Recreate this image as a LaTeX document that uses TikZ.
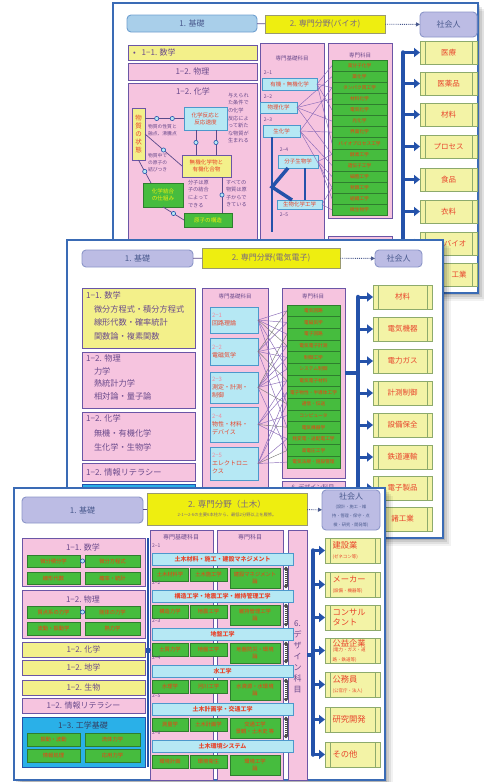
\documentclass[tikz,border=0pt]{standalone}
\usepackage{fontspec}
\setmainfont{Noto Sans CJK JP}
\usetikzlibrary{arrows.meta}
\definecolor{cardb}{HTML}{3A6BB5}
\definecolor{pinkc}{HTML}{F6C4DF}
\definecolor{purpb}{HTML}{6B56A6}
\definecolor{yelt}{HTML}{EEEE10}
\definecolor{ytb}{HTML}{9A9A70}
\definecolor{yell}{HTML}{F3F08A}
\definecolor{lav}{HTML}{BCBCE4}
\definecolor{lavb}{HTML}{8C96C8}
\definecolor{lblue}{HTML}{A9CFEA}
\definecolor{lbb}{HTML}{6FA0D0}
\definecolor{cyanf}{HTML}{B6E8F4}
\definecolor{cyanb}{HTML}{4C98CC}
\definecolor{grn}{HTML}{46BC3E}
\definecolor{grnb}{HTML}{2E7E2E}
\definecolor{grt}{HTML}{F23C10}
\definecolor{outf}{HTML}{F3F3A6}
\definecolor{outb}{HTML}{8DAA6C}
\definecolor{redt}{HTML}{E8452C}
\definecolor{txt}{HTML}{6A4A8C}
\definecolor{basetxt}{HTML}{4A5A8E}
\definecolor{ytxt}{HTML}{7A6A7E}
\definecolor{brk}{HTML}{2452AA}
\definecolor{bright}{HTML}{2AB0E8}
\definecolor{dline}{HTML}{5A4A8A}
\definecolor{xlc}{HTML}{8A6AB8}
\definecolor{labc}{HTML}{F08CA0}
\newcommand\fsz[2]{\fontsize{#1}{#2}\selectfont}
\newcommand\smf{\fontsize{4.5}{5.5}\selectfont}
\newcommand\mybox[7]{%
  \pgfmathsetmacro\mbw{#5-#3}\pgfmathsetmacro\mbh{#6-#4}%
  \pgfmathsetmacro\mbx{(#3+#5)/2}\pgfmathsetmacro\mby{(#4+#6)/2}%
  \node[#1, minimum width=\mbw pt, minimum height=\mbh pt] (#2) at (\mbx,\mby) {#7};}
\newcommand\cardshadow[4]{%
  \foreach \s/\o in {8/0.05,6/0.07,4/0.09,2/0.11}{\fill[black,opacity=\o] (#1+\s,#2+\s) rectangle (#3+\s,#4+\s);}}
\tikzset{
  every node/.style={inner sep=0pt, outer sep=0pt},
  card/.style={fill=white, draw=cardb, line width=1.6pt},
  lavbox/.style={fill=lav, draw=lavb, line width=0.9pt, rounded corners=4pt, text=basetxt, font=\fsz{8}{9}, align=center},
  lbbox/.style={lavbox, fill=lblue, draw=lbb},
  ytitle/.style={fill=yelt, draw=ytb, line width=0.8pt, text=ytxt, font=\fsz{8}{9}, align=center},
  ybox/.style={fill=yell, draw=purpb, line width=0.9pt, text=txt, font=\fsz{8}{9}, align=center},
  pbox/.style={ybox, fill=pinkc},
  brbox/.style={ybox, fill=bright, draw=brk},
  pcol/.style={fill=pinkc, draw=purpb, line width=0.9pt},
  coltitle/.style={text=txt, font=\fsz{5.5}{6}},
  ttxt/.style={text=txt, font=\fsz{8}{9}},
  ltxt/.style={text=txt, font=\fsz{8.2}{13.5}, align=left},
  cybox/.style={fill=cyanf, draw=cyanb, line width=0.7pt, text=redt, font=\fsz{5.5}{6.5}, align=center},
  ecy/.style={fill=cyanf, draw=cyanb, line width=0.7pt, text=redt, font=\fsz{6}{8}, align=left, text width=44pt},
  cbar/.style={fill=cyanf, draw=cyanb, line width=0.7pt, text=redt, font=\bfseries\fsz{6}{7}, align=center},
  gbox/.style={fill=grn, draw=grnb, line width=0.5pt, text=grt, font=\fsz{4.7}{5.5}, align=center},
  gbox2/.style={gbox, font=\fsz{5.3}{6.2}},
  yvbox/.style={fill=yell, draw=purpb, line width=0.8pt, text=redt, font=\fsz{6.5}{8}, align=center},
  ycbox/.style={fill=yell, draw=purpb, line width=0.8pt, text=redt, font=\fsz{5.6}{7}, align=center},
  cchem/.style={fill=cyanf, draw=cyanb, line width=0.8pt, text=redt, font=\fsz{5.6}{7}, align=center},
  gchem/.style={fill=grn, draw=grnb, line width=0.8pt, text=yelt, font=\fsz{5.6}{7}, align=center},
  stxt/.style={text=txt, font=\fsz{5.2}{7.6}, align=left},
  lab/.style={text=labc, font=\fsz{5}{6}},
  dotc/.style={circle, fill=cyanf, draw=brk, line width=0.6pt, minimum size=4.2pt},
  cline/.style={draw=dline, line width=0.7pt},
  thk/.style={draw=brk, line width=3.5pt},
  thn/.style={draw=brk, line width=1.8pt},
  xl/.style={draw=xlc, line width=0.45pt},
  xg/.style={draw=black!55, line width=0.4pt},
  bracket/.style={draw=brk, line width=4.5pt, line cap=round},
  barrow/.style={draw=brk, line width=3pt, -{Triangle[length=6pt,width=9pt]}},
  dotarr/.style={draw=basetxt, densely dotted, line width=0.9pt, -{Triangle[length=4pt,width=4pt]}},
  chainb/.style={draw=black!70, line width=3pt, {Triangle[length=3pt,width=5pt]}-{Triangle[length=3pt,width=5pt]}},
  chainw/.style={draw=white, line width=1.4pt, dash pattern=on 1pt off 1pt, shorten >=4pt, shorten <=4pt},
  outbox/.style={fill=outf, draw=outb, line width=0.8pt, text=redt, font=\fsz{7.5}{8.5}, align=center,
    path picture={\draw[outb, line width=0.7pt]
      ([xshift=5pt]path picture bounding box.north west) -- ([xshift=5pt]path picture bounding box.south west)
      ([xshift=-5pt]path picture bounding box.north east) -- ([xshift=-5pt]path picture bounding box.south east);}},
  outl/.style={outbox, align=left, text width=40pt, font=\fsz{8.3}{9.5}},
}
\begin{document}
\begin{tikzpicture}[x=1pt,y=-1pt]
\useasboundingbox (0,0) rectangle (483,782);
\fill[white] (0,0) rectangle (483,782);

%%%%%%%%%%%%%%%% CARD 1 : bio
\cardshadow{113}{3}{478}{293}
\mybox{card}{c1}{113}{3}{478}{293}{}
\mybox{lbbox}{bbase}{127}{15}{257}{32}{1. 基礎}
\mybox{ytitle}{bspec}{265}{15}{385}{33}{2. 専門分野(バイオ)}
\mybox{lavbox}{bsoc}{420}{12}{477}{37}{社会人}
\draw[cline] (bbase) -- (bspec);
\draw[dotarr] (bspec) -- (bsoc);

\mybox{ybox}{bmath}{128}{45}{257}{60}{}
\node[ttxt, anchor=west] (bmatht) at (133,52.5) {•\hspace{6pt}1−1. 数学};
\mybox{pbox}{bphys}{128}{63}{257}{80}{1−2. 物理}
\mybox{pbox}{bchem}{128}{83}{257}{300}{}
\node[ttxt] (bchemt) at (193,91) {1−2. 化学};

\mybox{yvbox}{bst}{132}{108}{145}{160}{物\\質\\の\\状\\態}
\mybox{cchem}{brx}{184}{107}{227}{130}{化学反応と\\反応速度}
\mybox{ycbox}{borg}{182}{155}{231}{177}{無機化学物と\\有機化合物}
\mybox{gchem}{bbond}{143}{183}{183}{207}{化学結合\\の仕組み}
\mybox{gchem}{batom}{184}{213}{232}{227}{原子の構造}
\node[stxt, anchor=north west] (bt1) at (228,93) {与えられ\\た条件で\\の化学\\反応によ\\って新た\\な物質が\\生まれる};
\node[stxt, anchor=north west, font=\fsz{4.8}{7}] (bt2) at (148,124) {物質の性質と\\融点、沸騰点};
\node[stxt, anchor=north west, font=\fsz{4.8}{7}] (bt3) at (148,153) {物質中で\\の原子の\\結びつき};
\node[stxt, anchor=north west] (bt4) at (188,180) {分子は原\\子の結合\\によって\\できる};
\node[stxt, anchor=north west] (bt5) at (226,180) {すべての\\物質は原\\子からで\\きている};
\draw[cline] (bst.east |- brx.west) -- node[dotc, pos=0.3] (bd1) {} node[dotc, pos=0.7] (bd2) {} (brx.west);
\draw[cline] ([xshift=-9.5pt]brx.south) -- node[dotc] (bd3) {} ([xshift=-10.5pt]borg.north);
\draw[cline] ([xshift=10.5pt]brx.south) -- node[dotc] (bd4) {} ([xshift=9.5pt]borg.north);
\draw[cline] (bst.east) -- node[dotc] (bd5) {} (borg.west);
\draw[cline] (bst.south) -- node[dotc] (bd6) {} ([xshift=-12pt]bbond.north);
\draw[cline] (bbond.south) -- node[dotc] (bd7) {} (batom.west);
\draw[cline] ([xshift=15.5pt]borg.south) -- node[dotc] (bd8) {} ([xshift=14pt]batom.north);

% basic specialized column
\mybox{pcol}{bkcol}{260}{43}{324}{300}{}
\node[coltitle] (bkt) at (292,58) {専門基礎科目};
\node[lab, text=txt] (bl1) at (268,73) {2−1};
\mybox{cybox}{bk1}{262}{78}{317}{90}{有機・無機化学}
\node[lab, text=txt] (bl2) at (268,97) {2−2};
\mybox{cybox}{bk2}{260}{102}{297}{113}{物理化学}
\node[lab, text=txt] (bl3) at (268,120) {2−3};
\mybox{cybox}{bk3}{263}{125}{300}{137}{生化学}
\node[lab, text=txt] (bl4) at (284,150) {2−4};
\mybox{cybox}{bk4}{278}{155}{318}{168}{分子生物学}
\mybox{cybox}{bk5}{277}{200}{322}{209}{生物化学工学}
\node[lab, text=txt] (bl5) at (284,215) {2−5};
\coordinate (bv) at (272,187);
\coordinate (bvend) at (272,232);
\draw[thn] ([xshift=-9.5pt]bk3.south) -- (bvend);
\draw[thk] ([xshift=-10pt]bk4.south) -- (bv) -- ([xshift=-7.5pt]bk5.north);
\draw[thn] ([xshift=7pt]bk4.south) -- ([xshift=5.5pt]bk5.north);

% specialized column
\mybox{pcol}{bscol}{328}{43}{392}{218}{}
\node[coltitle] (bst0) at (360,55) {専門科目};
\foreach \tx [count=\i] in {高分子化学,薬化学,タンパク質工学,材料化学,電気化学,光化学,界面化学,バイオプロセス工学,酵素工学,遺伝子工学,細胞工学,発酵工学,組織工学,微生物学}{
  \pgfmathsetmacro\ya{60+(\i-1)*11.1}\pgfmathsetmacro\yb{\ya+11.1}
  \mybox{gbox}{bs\i}{332}{\ya}{387}{\yb}{\tx}}
\mybox{pcol}{bdcol}{328}{236}{392}{300}{}
\foreach \a/\b in {1/1,1/3,1/5,1/8,2/2,2/4,2/6,2/9,3/3,3/7,3/10,3/12,4/9,4/11,4/13,5/12,5/14}
  \draw[xl] (bk\a.east) -- (bs\b.west);

% outcomes
\foreach \ya/\nm [count=\i] in {41/医療,72/医薬品,103/材料,135/プロセス,168/食品,200/衣料,232/{},263/{}}{
  \pgfmathsetmacro\yb{\ya+23}
  \mybox{outbox}{bo\i}{420}{\ya}{477}{\yb}{\nm}
  \coordinate (bb\i) at (403,\ya+11.5);}
\node[text=redt, font=\fsz{7.5}{8.5}] (bo7t) at (455,243.5) {バイオ};
\node[text=redt, font=\fsz{7.5}{8.5}] (bo8t) at (459,274.5) {工業};
\draw[bracket] (bb1) -- (bb8);
\foreach \i in {1,...,8} \draw[barrow] (bb\i) -- (bo\i.west);

%%%%%%%%%%%%%%%% CARD 2 : electrical
\cardshadow{67}{240}{443}{538}
\mybox{card}{c2}{67}{240}{443}{538}{}
\mybox{lavbox}{ebase}{82}{250}{193}{267}{1. 基礎}
\mybox{ytitle}{espec}{202}{248}{340}{268}{2. 専門分野(電気電子)}
\mybox{lavbox}{esoc}{375}{250}{422}{267}{社会人}
\draw[cline] (ebase) -- (espec);
\draw[dotarr] (espec) -- (esoc);

\mybox{ybox}{emath}{82}{288}{195}{348}{}
\node[ltxt, anchor=north west] (emt) at (86,292) {1−1. 数学\\\hspace*{8pt}微分方程式・積分方程式\\\hspace*{8pt}線形代数・確率統計\\\hspace*{8pt}関数論・複素関数};
\mybox{pbox}{ephys}{82}{352}{195}{408}{}
\node[ltxt, anchor=north west, font=\fsz{8.2}{12.4}] (ept) at (86,355) {1−2. 物理\\\hspace*{8pt}力学\\\hspace*{8pt}熱統計力学\\\hspace*{8pt}相対論・量子論};
\mybox{pbox}{echem}{82}{412}{195}{460}{}
\node[ltxt, anchor=north west, font=\fsz{8.2}{14.2}] (ect) at (86,415) {1−2. 化学\\\hspace*{8pt}無機・有機化学\\\hspace*{8pt}生化学・生物学};
\mybox{pbox}{einfo}{82}{463}{195}{481}{}
\node[ltxt, anchor=west] (eit) at (86,472) {1−2. 情報リテラシー};
\mybox{brbox}{eextra}{82}{484}{195}{530}{}

\mybox{pcol}{ekcol}{202}{288}{268}{520}{}
\node[coltitle] (ekt) at (235,296) {専門基礎科目};
\mybox{ecy}{ek1}{210}{307}{258}{333}{\textcolor{labc}{2−1}\\回路理論}
\mybox{ecy}{ek2}{210}{338}{258}{365}{\textcolor{labc}{2−2}\\電磁気学}
\mybox{ecy}{ek3}{210}{372}{258}{403}{\textcolor{labc}{2−3}\\測定・計測・\\制御}
\mybox{ecy}{ek4}{210}{407}{258}{442}{\textcolor{labc}{2−4}\\物性・材料・\\デバイス}
\mybox{ecy}{ek5}{210}{447}{258}{480}{\textcolor{labc}{2−5}\\エレクトロニ\\クス}

\mybox{pcol}{escol}{282}{288}{345}{478}{}
\node[coltitle] (est) at (313,296) {専門科目};
\foreach \tx [count=\i] in {電気回路,電磁気学,電子回路,電気電子計測,制御工学,システム制御,電気電子材料,電子物性・半導体工学,通信・伝送,コンピュータ,電気機器学,発変電・送配電工学,高電圧工学,電気法規・施設管理}{
  \pgfmathsetmacro\ya{305+(\i-1)*11.64}\pgfmathsetmacro\yb{\ya+11.64}
  \mybox{gbox}{es\i}{287}{\ya}{340}{\yb}{\tx}}
\mybox{pcol}{edcol}{282}{481}{345}{520}{}
\node[coltitle, font=\fsz{6}{7}] (edt) at (313,487) {6. デザイン科目};
\foreach \a/\b in {1/1,1/2,1/3,1/6,1/9,2/2,2/4,2/5,2/11,3/4,3/5,3/6,3/7,3/13,4/7,4/8,4/10,4/12,5/8,5/9,5/12,5/14}
  \draw[xl] (ek\a.east) -- (es\b.west);
\foreach \a/\b in {1/4,2/7,3/9,4/11,5/13,2/1,3/3}
  \draw[xg] (ek\a.east) -- (es\b.west);

\foreach \ya/\nm [count=\i] in {285/材料,317/電気機器,349/電力ガス,381/計測制御,413/設備保全,445/鉄道運輸,476/電子製品,507/諸工業}{
  \pgfmathsetmacro\yb{\ya+24}
  \mybox{outbox}{eo\i}{373}{\ya}{432}{\yb}{\nm}
  \coordinate (eb\i) at (358,\ya+12);}
\coordinate (ej) at (358,373);
\draw[bracket] (eb1) -- (eb8);
\draw[thk] ([yshift=10pt]escol.east) -- (ej);
\foreach \i in {1,...,8} \draw[barrow] (eb\i) -- (eo\i.west);

%%%%%%%%%%%%%%%% CARD 3 : civil
\cardshadow{14}{488}{385}{780}
\mybox{card}{c3}{14}{488}{385}{780}{}
\mybox{lavbox}{cbase}{22}{497}{143}{523}{1. 基礎}
\mybox{ytitle}{cspec}{147}{493}{307}{525}{\fsz{8.5}{10}2. 専門分野（土木）\\\fsz{4.3}{6}2-1〜2-6の主要6本柱から、最低2分野以上を履修。}
\mybox{lavbox}{csoc}{322}{490}{380}{530}{\fsz{8}{9.5}社会人\\\fsz{4.2}{5.3}(設計・施工・維\\\fsz{4.2}{5.3}持・管理・保守・点\\\fsz{4.2}{5.3}検・研究・開発等)}
\draw[cline] (cbase) -- (cspec);
\draw[dotarr] (cspec) -- (csoc);

% left column
\mybox{pbox}{cmath}{22}{538}{145}{586}{}
\node[ttxt] (cmt) at (83,547) {1−1. 数学};
\mybox{gbox2}{cm1}{27}{555}{80}{567}{微分積分学}
\mybox{gbox2}{cm2}{85}{555}{140}{567}{微分方程式}
\mybox{gbox2}{cm3}{27}{572}{80}{584}{線形代数}
\mybox{gbox2}{cm4}{85}{572}{140}{584}{確率・統計}
\draw[cline] (cm1) -- node[dotc] (cmd) {} (cm2);
\mybox{pbox}{cphys}{22}{590}{145}{638}{}
\node[ttxt] (cpt) at (83,599) {1−2. 物理};
\mybox{gbox2}{cp1}{27}{606}{80}{618}{質点系の力学}
\mybox{gbox2}{cp2}{85}{606}{140}{618}{剛体の力学}
\mybox{gbox2}{cp3}{27}{622}{80}{635}{波動・振動学}
\mybox{gbox2}{cp4}{85}{622}{140}{635}{熱力学}
\draw[cline] (cp1) -- node[dotc] (cpd) {} (cp2);
\mybox{ybox}{cchem}{22}{642}{145}{657}{1−2. 化学}
\mybox{ybox}{cgeo}{22}{660}{145}{675}{1−2. 地学}
\mybox{ybox}{cbio}{22}{680}{145}{695}{1−2. 生物}
\mybox{pbox}{cinfo}{22}{698}{145}{713}{1−2. 情報リテラシー}
\mybox{brbox}{ceng}{22}{717}{145}{767}{}
\node[ttxt, text=basetxt!70!black] (cet) at (83,725) {1−3. 工学基礎};
\mybox{gbox2}{ce1}{27}{733}{80}{746}{振動・波動}
\mybox{gbox2}{ce2}{85}{733}{140}{746}{流体力学}
\mybox{gbox2}{ce3}{27}{749}{80}{762}{情報処理}
\mybox{gbox2}{ce4}{85}{749}{140}{762}{応用力学}
\coordinate (cv1) at (148,538);
\coordinate (cv2) at (148,767);
\draw[draw=brk, line width=1.3pt] (cv1) -- (cv2);
\node[fill=brk, minimum size=5pt] (csq) at (148,650) {};

% center columns
\mybox{pcol}{ckcol}{150}{530}{213}{780}{}
\node[coltitle, font=\fsz{6}{7}] (ckt) at (181,537) {専門基礎科目};
\mybox{pcol}{cscol}{217}{530}{283}{780}{}
\node[coltitle, font=\fsz{6}{7}] (cst) at (250,537) {専門科目};
\mybox{pcol}{cdcol}{288}{530}{307}{780}{}
\node[text=txt, font=\fsz{8}{11}, align=center] (cdt) at (297.5,657) {6.\\デ\\ザ\\イ\\ン\\科\\目};

\foreach \ya/\nm/\ga/\gb/\gc [count=\i] in {
  553/土木材料・施工・建設マネジメント/土木材料学/土木施工学/{建設マネジメント\\論},
  590/構造工学・地震工学・維持管理工学/構造力学/地震工学/{維持管理工学\\論},
  628/地盤工学/土質力学/地盤工学/{地盤防災・環境\\論},
  665/水工学/水理学/河川工学/{水資源・水環境\\論},
  703/土木計画学・交通工学/測量学/土木計画学/{交通工学\\景観・土木史 等},
  740/土木環境システム/環境計画/環境衛生/{環境工学\\論}}{
  \pgfmathsetmacro\yb{\ya+12}\pgfmathsetmacro\yc{\ya+15}
  \pgfmathsetmacro\yd{\ya+28}\pgfmathsetmacro\ye{\ya+35}\pgfmathsetmacro\yl{\ya-7}
  \node[lab, text=txt, anchor=west] (cl\i) at (152,\yl) {2−\i};
  \mybox{cbar}{cr\i}{152}{\ya}{293}{\yb}{\nm}
  \mybox{gbox2}{cg\i a}{152}{\yc}{188}{\yd}{\ga}
  \mybox{gbox2}{cg\i b}{190}{\yc}{227}{\yd}{\gb}
  \mybox{gbox2}{cg\i c}{230}{\yc}{280}{\ye}{\gc}}
\foreach \i [evaluate=\i as \j using int(\i+1)] in {1,...,5}{
  \draw[chainb] ([xshift=63.5pt,yshift=-1.5pt]cr\i.south) -- ([xshift=63.5pt,yshift=1.5pt]cr\j.north);
  \draw[chainw] ([xshift=63.5pt,yshift=-1.5pt]cr\i.south) -- ([xshift=63.5pt,yshift=1.5pt]cr\j.north);}
\draw[draw=brk, line width=1.3pt] (csq) -- (ckcol.west |- csq);

% outcomes
\foreach \ya/\nm [count=\i] in {538/{建設業\\\smf(ゼネコン等)},572/{メーカー\\\smf(設備・機器等)},605/{コンサル\\タント},638/{公益企業\\\smf(電力・ガス・道\\\smf 路・鉄道等)},672/{公務員\\\smf(公官庁・法人)},707/研究開発,742/その他}{
  \pgfmathsetmacro\yb{\ya+25}
  \mybox{outl}{co\i}{325}{\ya}{380}{\yb}{\nm}
  \coordinate (cb\i) at (313,\ya+12.5);}
\coordinate (cj) at (313,655);
\draw[bracket] (cb1) -- (cb7);
\draw[thk] (cdcol.east) -- (cj);
\foreach \i in {1,...,7} \draw[barrow] (cb\i) -- (co\i.west);
\end{tikzpicture}
\end{document}
